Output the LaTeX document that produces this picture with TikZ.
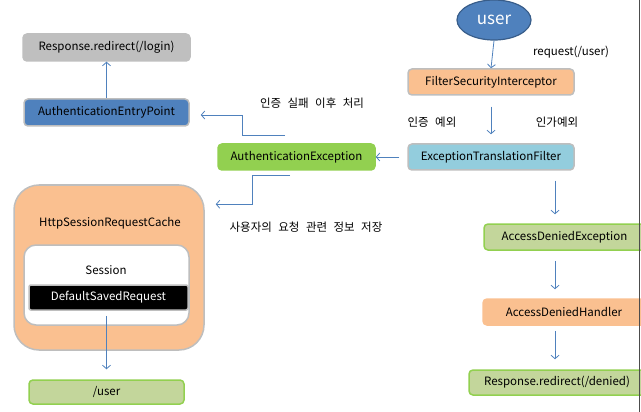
\documentclass[tikz,border=0pt]{standalone}
\usepackage{fontspec}
\setmainfont{Noto Sans CJK KR}
\newfontfamily\kor[WordSpace=2.5]{Noto Sans CJK KR}
\usetikzlibrary{shapes.geometric,arrows.meta}

% Farben
\definecolor{blau}{HTML}{4F81BD}
\definecolor{dunkelblau}{HTML}{385D8A}
\definecolor{grau}{HTML}{BFBFBF}
\definecolor{rahmen}{HTML}{BEBEBE}
\definecolor{orange}{HTML}{FAC090}
\definecolor{hellblau}{HTML}{93CDDD}
\definecolor{gruen}{HTML}{92D050}
\definecolor{hellgruen}{HTML}{C3D69B}

\begin{document}
\begin{tikzpicture}[x=1pt, y=-1pt,
    kasten/.style={draw=rahmen, line width=1.5pt, rounded corners=4pt,
        minimum height=26pt, inner sep=0pt, font=\fontsize{11.5}{13}\selectfont},
    pfeil/.style={-{Straight Barb[length=3.5pt,width=8pt]}, draw=blau, line width=0.8pt},
    beschriftung/.style={inner sep=0pt, font=\fontsize{11.5}{13}\selectfont},
    koreanisch/.style={inner sep=0pt, font=\kor\fontsize{11.5}{13}\selectfont}]

    \useasboundingbox (0,0) rectangle (641,412);

    % linke Seite
    \node[kasten, fill=grau, draw=grau, minimum width=167pt, minimum height=27pt] (login) at (106.5,47.5) {Response.redirect(/login)};
    \node[kasten, fill=blau, minimum width=165pt, minimum height=27pt] (entry) at (106.5,112.5) {AuthenticationEntryPoint};
    \node[kasten, fill=gruen, draw=gruen, minimum width=157pt] (authex) at (296.5,157) {AuthenticationException};

    % Cache mit Session
    \node[draw=rahmen, fill=orange, line width=1.5pt, rounded corners=25pt,
        minimum width=190pt, minimum height=165pt] (cache) at (109,267.5) {};
    \node[beschriftung] (cachetext) at (110,223) {HttpSessionRequestCache};
    \node[draw=rahmen, fill=white, line width=1.5pt, rounded corners=12pt,
        minimum width=165pt, minimum height=80pt] (session) at (106.5,285) {};
    \node[beschriftung] (sessiontext) at (106,270) {Session};
    \node[kasten, fill=black, text=white, rounded corners=2pt, minimum width=159pt, minimum height=25pt] (saved) at (108.5,297.5) {DefaultSavedRequest};
    \node[kasten, fill=hellgruen, draw=gruen, minimum width=155pt, minimum height=24pt] (target) at (106.5,392) {/user};

    % rechte Seite
    \node[ellipse, draw=dunkelblau, fill=blau, line width=1.2pt, minimum width=74pt, minimum height=40pt,
        text=white, font=\fontsize{17}{19}\selectfont] (user) at (494,20) {user};
    \node[kasten, fill=orange, minimum width=166pt] (fsi) at (491,82) {FilterSecurityInterceptor};
    \node[kasten, fill=hellblau, minimum width=166pt] (etf) at (491,157) {ExceptionTranslationFilter};
    \node[kasten, fill=hellgruen, draw=gruen, minimum width=161pt] (ade) at (564.5,237) {AccessDeniedException};
    \node[kasten, fill=orange, draw=orange, minimum width=162pt] (adh) at (564,312) {AccessDeniedHandler};
    \node[kasten, fill=hellgruen, draw=gruen, minimum width=176pt, minimum height=25pt] (denied) at (557,382.5) {Response.redirect(/denied)};

    % Beschriftungen
    \node[koreanisch] (failtext) at (312,103) {인증 실패 이후 처리};
    \node[beschriftung] (reqtext) at (571,52) {request(/user)};
    \node[koreanisch] (authntext) at (432,122) {인증 예외};
    \node[koreanisch] (authztext) at (557,122) {인가예외};
    \node[koreanisch] (savetext) at (306,227) {사용자의 요청 관련 정보 저장};

    % Pfeile
    \coordinate (k1) at (285,135);
    \coordinate (k2) at (290,175);
    \draw[pfeil] (user.south) -- (fsi.north);
    \draw[pfeil, shorten <=11pt, shorten >=9pt] (fsi.south) -- (etf.north);
    \draw[pfeil, shorten <=8pt] (etf.west) -- (authex.east);
    \draw[pfeil, shorten >=11pt] (k1) -- ++(-43,0) |- ([yshift=-2.5pt]entry.east);
    \draw[pfeil] (entry.north) -- (login.south);
    \draw[pfeil, shorten >=11pt] (k2) -- ++(-38,0) |- ([yshift=-20pt]cache.north east);
    \draw[pfeil, shorten <=5pt, shorten >=10pt] (target.north |- saved.south) -- (target.north);
    \draw[pfeil, shorten <=10pt, shorten >=9pt] ([xshift=64pt]etf.south) -- ([xshift=64pt]etf.south |- ade.north);
    \draw[pfeil, shorten <=10pt, shorten >=9pt] ([xshift=-9.5pt]ade.south) -- ([xshift=-9.5pt]ade.south |- adh.north);
    \draw[pfeil, shorten <=5pt, shorten >=10pt] ([xshift=-9pt]adh.south) -- ([xshift=-9pt]adh.south |- denied.north);

    % Rand rechts
    \draw[gray!60!black, line width=1.5pt] (639.5,0) -- (639.5,412);
\end{tikzpicture}
\end{document}
